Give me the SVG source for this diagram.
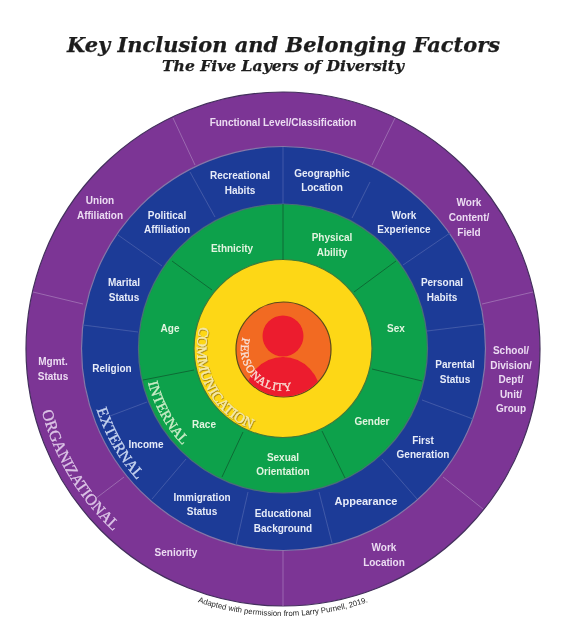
<svg xmlns="http://www.w3.org/2000/svg" width="588" height="636" viewBox="0 0 588 636">
<style>
.l{font:bold 10px "Liberation Sans",Arial,sans-serif;text-anchor:middle}
.p{fill:#ecdcf2}.b{fill:#e6ecf8}.g{fill:#e2f4e0}
.arc{font-family:"Liberation Serif","Times New Roman",serif;font-weight:normal;stroke-width:0.35}
.title{font-family:"DejaVu Serif",Georgia,serif;font-weight:bold;font-style:italic;fill:#1c1c1c;text-anchor:middle;stroke:#1c1c1c;stroke-width:0.25}
.dp{stroke:#9c69b0;stroke-width:1}.db{stroke:#3f5aa8;stroke-width:1}.dg{stroke:#0a6b35;stroke-width:1}
</style>
<defs>
<filter id="soft" x="-5%" y="-5%" width="110%" height="110%"><feGaussianBlur stdDeviation="0.35"/></filter>
<filter id="sh" x="-10%" y="-10%" width="120%" height="120%"><feDropShadow dx="0.6" dy="0.8" stdDeviation="0.5" flood-color="#8a6a10" flood-opacity="0.9"/></filter>
<path id="pOrg" d="M41.9 411.3A249 249 0 0 0 158.500 564.6"/>
<path id="pExt" d="M96.6 409.6A196 196 0 0 0 185 518.7"/>
<path id="pInt" d="M148.1 382.6A139 139 0 0 0 224.3 475"/>
<path id="pCom" d="M199.9 326.7A86 86 0 0 0 283 435"/>
<path id="pPer" d="M242.6 337.4A42 42 0 0 0 307.1 383.4"/>
<path id="pCap" d="M190 599.3A267 267 0 0 0 376 599.3"/>
<clipPath id="innerClip"><circle cx="283.5" cy="349.5" r="47"/></clipPath>
</defs>
<rect width="588" height="636" fill="#fff"/>
<g filter="url(#soft)">
<g id="title">
<text class="title" x="283.5" y="52" font-size="21" textLength="433" lengthAdjust="spacingAndGlyphs">Key Inclusion and Belonging Factors</text>
<text class="title" x="283" y="71" font-size="15.500" textLength="242" lengthAdjust="spacingAndGlyphs">The Five Layers of Diversity</text>
</g>
<g id="rings">
<circle id="ring-organizational" cx="283" cy="349" r="257" fill="#7b3595" stroke="#43305c" stroke-width="1.2"/>
<circle id="ring-external" cx="283.5" cy="348.5" r="202" fill="#1f3a97" stroke="#8577a8" stroke-width="1.2"/>
<circle id="ring-internal" cx="283" cy="348.5" r="144.5" fill="#0ea14b" stroke="#4a6f78" stroke-width="1.2"/>
<circle id="ring-communication" cx="283" cy="348.5" r="89" fill="#fdd714" stroke="#3f7a3a" stroke-width="1.2"/>
<g id="personality">
<circle cx="283.5" cy="349.5" r="47.5" fill="#f26b21" stroke="#5b4a1c" stroke-width="1.2"/>
<g clip-path="url(#innerClip)" fill="#ec1c2d">
<circle cx="283" cy="336" r="20.5"/>
<ellipse cx="283" cy="397" rx="38" ry="40"/>
</g>
</g>
</g>
<g id="connectors" fill="none">
<g class="dp">
<path d="M173 118L195 165M395 118L372 165M533 292L482 304M483 509L443 477M283 550V606M95 499L124 477M33 292L83 304"/>
</g>
<g class="db">
<path d="M283 147V204M190 172L215 217M370 182L352 218M118 235L162 266M450 233L403 265M83 325L138 332M484 324L427 331M110 416L147 402M473 419L422 400M152 499L186 459M417 499L382 459M236 545L248 492M332 543L319 492"/>
</g>
<g class="dg">
<path d="M283 204V260M172 261L212 290M396 261L354 292M143 380L194 370M422 381L372 369M222 477L243 432M345 478L322 431"/>
</g>
</g>
<g id="organizational-labels" class="l p">
<text id="functional-level" x="283" y="125.500">Functional Level/Classification</text>
<text id="union-affiliation" x="100"><tspan x="100" y="203.500">Union</tspan><tspan x="100" y="218.500">Affiliation</tspan></text>
<text id="work-content"><tspan x="469" y="205.500">Work</tspan><tspan x="469" y="220.500">Content/</tspan><tspan x="469" y="235.500">Field</tspan></text>
<text id="mgmt-status"><tspan x="53" y="364.500">Mgmt.</tspan><tspan x="53" y="380">Status</tspan></text>
<text id="school"><tspan x="511" y="353.500">School/</tspan><tspan x="511" y="368.500">Division/</tspan><tspan x="511" y="382.500">Dept/</tspan><tspan x="511" y="397.500">Unit/</tspan><tspan x="511" y="411.500">Group</tspan></text>
<text id="seniority" x="176" y="555.500">Seniority</text>
<text id="work-location"><tspan x="384" y="550.500">Work</tspan><tspan x="384" y="565.500">Location</tspan></text>
</g>
<g id="external-labels" class="l b">
<text id="recreational"><tspan x="240" y="178.500">Recreational</tspan><tspan x="240" y="193.500">Habits</tspan></text>
<text id="geographic"><tspan x="322" y="176.500">Geographic</tspan><tspan x="322" y="191">Location</tspan></text>
<text id="political"><tspan x="167" y="218.500">Political</tspan><tspan x="167" y="233">Affiliation</tspan></text>
<text id="work-experience"><tspan x="404" y="218.500">Work</tspan><tspan x="404" y="233">Experience</tspan></text>
<text id="marital"><tspan x="124" y="285.500">Marital</tspan><tspan x="124" y="300.500">Status</tspan></text>
<text id="personal-habits"><tspan x="442" y="285.500">Personal</tspan><tspan x="442" y="300.500">Habits</tspan></text>
<text id="religion" x="112" y="371.500">Religion</text>
<text id="parental"><tspan x="455" y="367.500">Parental</tspan><tspan x="455" y="382.500">Status</tspan></text>
<text id="income" x="146" y="447.500">Income</text>
<text id="first-generation"><tspan x="423" y="443.500">First</tspan><tspan x="423" y="458">Generation</tspan></text>
<text id="immigration"><tspan x="202" y="500.500">Immigration</tspan><tspan x="202" y="514.500">Status</tspan></text>
<text id="educational"><tspan x="283" y="516.500">Educational</tspan><tspan x="283" y="531.500">Background</tspan></text>
<text id="appearance" x="366" y="504.500" style="font-size:11px">Appearance</text>
</g>
<g id="internal-labels" class="l g">
<text id="ethnicity" x="232" y="251.500">Ethnicity</text>
<text id="physical"><tspan x="332" y="240.500">Physical</tspan><tspan x="332" y="255.500">Ability</tspan></text>
<text id="age" x="170" y="331.500">Age</text>
<text id="sex" x="396" y="331.500">Sex</text>
<text id="race" x="204" y="427.500">Race</text>
<text id="gender" x="372" y="424.500">Gender</text>
<text id="sexual"><tspan x="283" y="460.500">Sexual</tspan><tspan x="283" y="474.500">Orientation</tspan></text>
</g>
<g id="layer-names" class="arc">
<text font-size="16" fill="#dcc4e6" stroke="#dcc4e6"><textPath href="#pOrg">ORGANIZATIONAL</textPath></text>
<text font-size="15.500" fill="#c4d3ef" stroke="#c4d3ef"><textPath href="#pExt">EXTERNAL</textPath></text>
<text font-size="14.500" fill="#c9ecc6" stroke="#c9ecc6"><textPath href="#pInt">INTERNAL</textPath></text>
<text font-size="14.500" fill="#f6eaa8" stroke="#f6eaa8" filter="url(#sh)"><textPath href="#pCom">COMMUNICATION</textPath></text>
<text font-size="11.500" fill="#f8dcd2" stroke="#f8dcd2" letter-spacing="0.8"><textPath href="#pPer">PERSONALITY</textPath></text>
</g>
<g id="caption">
<text font-family="'Liberation Sans',Arial,sans-serif" font-size="7.800" fill="#222" text-anchor="middle"><textPath href="#pCap" startOffset="50%">Adapted with permission from Larry Purnell, 2019.</textPath></text>
</g>
</g>
</svg>
